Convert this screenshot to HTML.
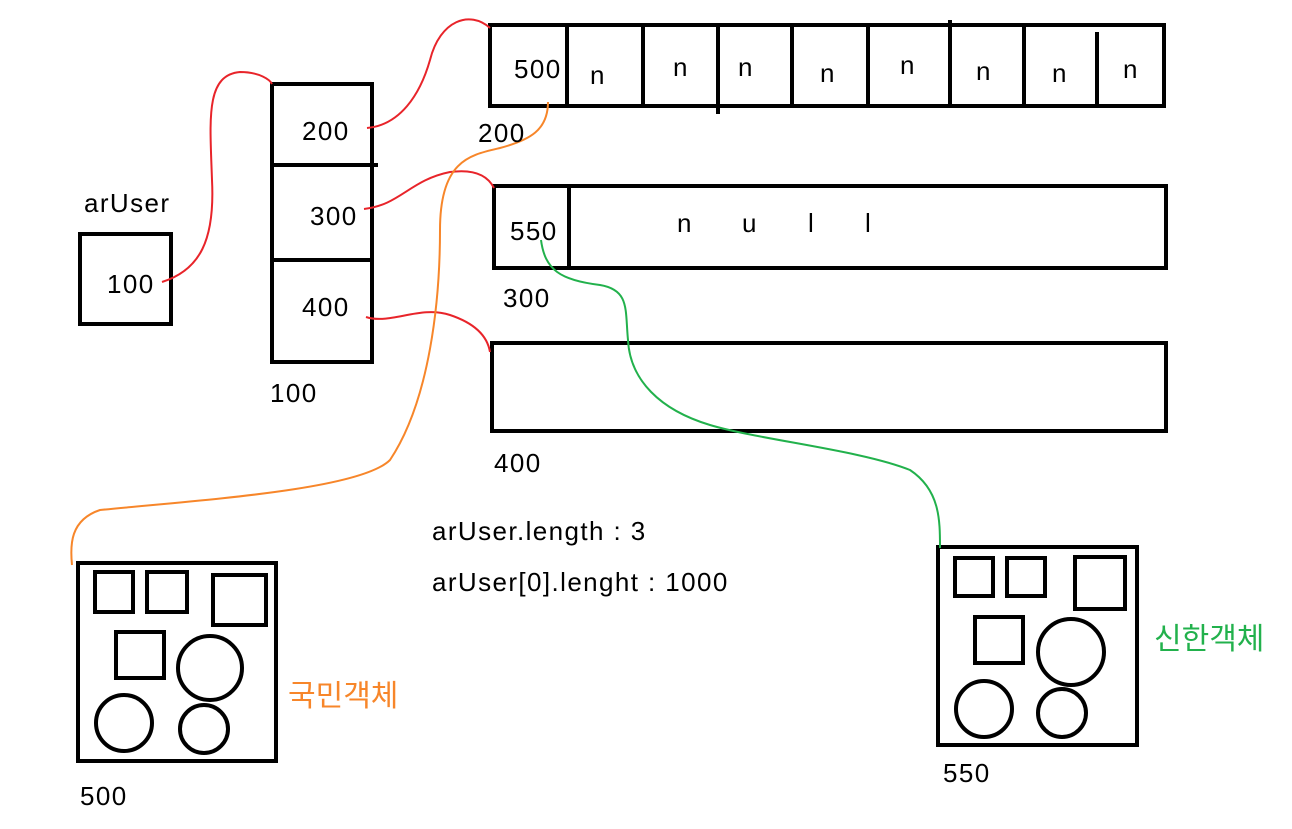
<!DOCTYPE html>
<html><head><meta charset="utf-8"><style>
html,body{margin:0;padding:0;background:#fff;}
svg{display:block;}
text{font-family:"Liberation Sans","Noto Sans CJK KR",sans-serif;font-size:26px;letter-spacing:1.4px;fill:#000;}
</style></head><body>
<svg width="1292" height="829" viewBox="0 0 1292 829">
<g fill="none" stroke="#000" stroke-width="4">
 <rect x="80" y="234" width="91" height="90"/>
 <g>
  <rect x="272" y="84" width="100" height="278"/>
  <line x1="272" y1="165" x2="378" y2="165"/>
  <line x1="272" y1="260" x2="370" y2="260"/>
 </g>
 <g>
  <rect x="490" y="25" width="674" height="81"/>
  <line x1="567" y1="25" x2="567" y2="106"/>
  <line x1="643" y1="25" x2="643" y2="108"/>
  <line x1="718" y1="25" x2="718" y2="114"/>
  <line x1="792" y1="25" x2="792" y2="106"/>
  <line x1="868" y1="25" x2="868" y2="106"/>
  <line x1="950" y1="20" x2="950" y2="106"/>
  <line x1="1024" y1="25" x2="1024" y2="106"/>
  <line x1="1097" y1="32" x2="1097" y2="106"/>
 </g>
 <g>
  <rect x="494" y="186" width="672" height="82"/>
  <line x1="569" y1="186" x2="569" y2="270"/>
 </g>
 <rect x="492" y="343" width="674" height="88"/>
 <g>
  <rect x="78" y="563" width="198" height="198"/>
  <rect x="95" y="572" width="38" height="40"/>
  <rect x="147" y="572" width="40" height="40"/>
  <rect x="213" y="575" width="53" height="50"/>
  <rect x="116" y="632" width="48" height="46"/>
  <circle cx="210" cy="668" r="32"/>
  <circle cx="124" cy="723" r="28"/>
  <circle cx="204" cy="729" r="24"/>
 </g>
 <g>
  <rect x="938" y="547" width="199" height="198"/>
  <rect x="955" y="558" width="38" height="38"/>
  <rect x="1007" y="558" width="38" height="38"/>
  <rect x="1075" y="557" width="50" height="52"/>
  <rect x="975" y="617" width="48" height="46"/>
  <circle cx="1071" cy="652" r="33"/>
  <circle cx="984" cy="709" r="28"/>
  <circle cx="1062" cy="713" r="24"/>
 </g>
</g>
<g fill="none" stroke-width="2">
 <path stroke="#e8242a" d="M162,282 C200,270 215,240 212,180 C210,120 205,75 240,72 C260,72 270,80 272,84"/>
 <path stroke="#e8242a" d="M367,128 C400,125 420,95 430,60 C440,20 470,10 490,28"/>
 <path stroke="#e8242a" d="M364,209 C400,205 410,180 450,172 C480,168 490,180 494,188"/>
 <path stroke="#e8242a" d="M366,317 C390,325 420,305 450,315 C480,325 488,340 490,352"/>
 <path stroke="#f7862a" d="M548,102 C548,130 530,140 500,148 C470,155 440,160 440,230 C440,300 430,400 390,460 C360,490 200,500 100,510 C70,520 70,545 72,565"/>
 <path stroke="#22b14c" d="M541,240 C545,270 560,280 600,285 C630,290 625,310 628,340 C630,380 660,410 710,425 C760,440 860,450 910,470 C940,490 940,520 940,548"/>
</g>
<text x="84" y="212">arUser</text>
<text x="107" y="293">100</text>
<text x="302" y="140">200</text>
<text x="310" y="225">300</text>
<text x="302" y="316">400</text>
<text x="270" y="402">100</text>
<text x="514" y="78">500</text>
<g>
<text x="590" y="84">n</text><text x="673" y="76">n</text><text x="738" y="76">n</text>
<text x="820" y="82">n</text><text x="900" y="74">n</text><text x="976" y="80">n</text>
<text x="1052" y="82">n</text><text x="1123" y="78">n</text>
</g>
<text x="478" y="142">200</text>
<text x="510" y="240">550</text>
<text x="677" y="232">n</text><text x="742" y="232">u</text><text x="808" y="232">l</text><text x="865" y="232">l</text>
<text x="503" y="307">300</text>
<text x="494" y="472">400</text>
<text x="432" y="540">arUser.length : 3</text>
<text x="432" y="591">arUser[0].lenght : 1000</text>
<text x="288" y="706" style="fill:#f7862a;font-size:30px;letter-spacing:0">국민객체</text>
<text x="80" y="805">500</text>
<text x="1154" y="649" style="fill:#22b14c;font-size:30px;letter-spacing:0">신한객체</text>
<text x="943" y="782">550</text>
</svg>
</body></html>
